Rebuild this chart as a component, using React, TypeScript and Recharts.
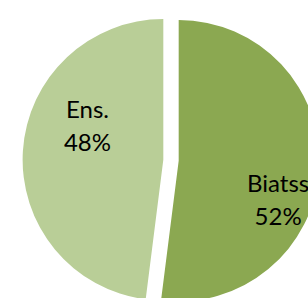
import { PieChart, Pie, Cell } from "recharts";

const categories = ["Biatss", "Ens."];
const shares = [52, 48];
const colors = ["#8BA851", "#B9CE97"];

const data = categories.map((name, i) => ({ name, value: shares[i] }));

const WIDTH = 308;
const HEIGHT = 298;
const CX = 171;
const CY = 160.2;
const RADIUS = 140.7;
const EXPLODE = 7.7;
const START = 90;
const END = -270;

// where each label sits: fraction of the radius, turn from the slice's mid angle
const labelPlacement = [
  { r: 0.76, rot: -18 },
  { r: 0.59, rot: -20.4 },
];

const total = shares.reduce((a, b) => a + b, 0);

function sliceMid(i: number) {
  const before = shares.slice(0, i).reduce((a, b) => a + b, 0);
  return START + ((END - START) * (before + shares[i] / 2)) / total;
}

const RAD = Math.PI / 180;

function renderLabel(slice: number) {
  return (props: any) => {
    const { cx, cy, midAngle, outerRadius, index, percent } = props;
    if (index !== slice) return null;
    const p = labelPlacement[slice];
    const a = (midAngle + p.rot) * RAD;
    const x = cx + outerRadius * p.r * Math.cos(a);
    const y = cy - outerRadius * p.r * Math.sin(a);
    return (
      <text
        key={`lbl-${slice}`}
        x={x}
        y={y}
        textAnchor="middle"
        fill="#000"
        fontFamily="Lato, sans-serif"
        fontSize={24}
      >
        <tspan x={x} y={y - 7.7}>
          {categories[slice]}
        </tspan>
        <tspan x={x} y={y + 24.6}>
          {`${Math.round(percent * 100)}%`}
        </tspan>
      </text>
    );
  };
}

export default function App() {
  return (
    <div style={{ position: "absolute", left: 0, top: 0, width: WIDTH, height: HEIGHT, background: "#fff" }}>
      <PieChart width={WIDTH} height={HEIGHT} margin={{ top: 0, right: 0, bottom: 0, left: 0 }}>
        {categories.map((_, i) => {
          const m = sliceMid(i) * RAD;
          return (
            <Pie
              key={i}
              data={data}
              dataKey="value"
              nameKey="name"
              cx={CX + EXPLODE * Math.cos(m)}
              cy={CY - EXPLODE * Math.sin(m)}
              outerRadius={RADIUS}
              innerRadius={0}
              startAngle={START}
              endAngle={END}
              stroke="none"
              labelLine={false}
              label={renderLabel(i)}
              isAnimationActive={false}
            >
              {data.map((d, j) => (
                <Cell key={d.name} fill={j === i ? colors[j] : "none"} stroke="none" />
              ))}
            </Pie>
          );
        })}
      </PieChart>
    </div>
  );
}
